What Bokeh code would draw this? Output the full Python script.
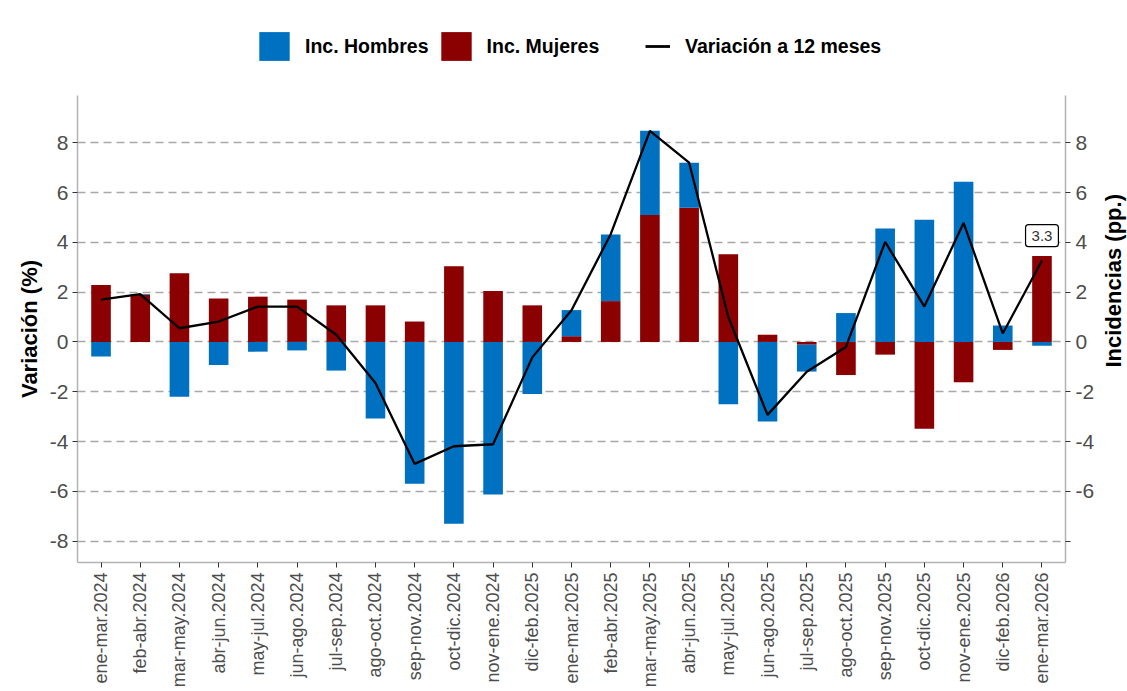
import math
from bokeh.plotting import figure
from bokeh.models import (Range1d, LinearAxis, FixedTicker, ColumnDataSource,
                          Legend, LegendItem, Label)
from bokeh.layouts import column, row
from bokeh.embed import file_html
from bokeh.resources import INLINE

# ---------------- data ----------------
categories = ["ene-mar.2024", "feb-abr.2024", "mar-may.2024", "abr-jun.2024",
              "may-jul.2024", "jun-ago.2024", "jul-sep.2024", "ago-oct.2024",
              "sep-nov.2024", "oct-dic.2024", "nov-ene.2024", "dic-feb.2025",
              "ene-mar.2025", "feb-abr.2025", "mar-may.2025", "abr-jun.2025",
              "may-jul.2025", "jun-ago.2025", "jul-sep.2025", "ago-oct.2025",
              "sep-nov.2025", "oct-dic.2025", "nov-ene.2025", "dic-feb.2026",
              "ene-mar.2026"]
inc_hombres = [-0.58, 0.03, -2.20, -0.93, -0.39, -0.34, -1.15, -3.08, -5.70, -7.30,
               -6.13, -2.09, 1.05, 2.68, 3.38, 1.81, -2.50, -3.20, -1.08, 1.16,
               4.56, 4.91, 6.44, 0.66, -0.15]
inc_mujeres = [2.29, 1.90, 2.76, 1.75, 1.82, 1.70, 1.47, 1.47, 0.82, 3.04,
               2.05, 1.47, 0.23, 1.64, 5.10, 5.39, 3.52, 0.29, -0.11, -1.33,
               -0.51, -3.49, -1.62, -0.32, 3.45]
variacion_12m = [1.70, 1.92, 0.55, 0.82, 1.42, 1.42, 0.29, -1.65, -4.90, -4.19,
                 -4.11, -0.62, 1.27, 4.33, 8.48, 7.20, 1.00, -2.93, -1.20, -0.20,
                 4.02, 1.42, 4.78, 0.34, 3.27]
y_ticks = [-8, -6, -4, -2, 0, 2, 4, 6, 8]

FONT = "Liberation Sans"
BLUE = "#0070C0"
RED = "#8B0000"
TICK_COLOR = "#4D4D4D"
AXIS_COLOR = "#B3B3B3"

# diverging stacking: Mujeres nearest zero, Hombres stacked after
x = list(range(len(categories)))
mb, mt, hb, ht = [], [], [], []
for m, h in zip(inc_mujeres, inc_hombres):
    mb.append(0.0)
    mt.append(m)
    if h >= 0:
        base = m if m > 0 else 0.0
    else:
        base = m if m < 0 else 0.0
    hb.append(base)
    ht.append(base + h)

src = ColumnDataSource(dict(x=x, mb=mb, mt=mt, hb=hb, ht=ht))

MAIN_H = 596
y_lo, y_hi = -8.86, 9.9
p = figure(width=1097, height=MAIN_H,
           x_range=Range1d(-0.6, len(categories) - 0.4),
           y_range=Range1d(y_lo, y_hi),
           output_backend="svg", toolbar_location=None,
           min_border_left=77, min_border_right=30,
           min_border_top=0, min_border_bottom=129)
p.extra_y_ranges = {"right": Range1d(y_lo, y_hi)}
p.outline_line_color = None
p.background_fill_color = "white"
p.border_fill_color = "white"

r_m = p.vbar(x="x", bottom="mb", top="mt", width=0.5, fill_color=RED,
             line_color=None, source=src)
r_h = p.vbar(x="x", bottom="hb", top="ht", width=0.5, fill_color=BLUE,
             line_color=None, source=src)
r_l = p.line(x, variacion_12m, line_color="black", line_width=2.3)

# grid
p.xgrid.visible = False
p.ygrid.ticker = FixedTicker(ticks=y_ticks)
p.ygrid.grid_line_color = "#A8A8A8"
p.ygrid.grid_line_width = 1.4
p.ygrid.grid_line_dash = "8 5"

def style_axis(ax, label_size):
    ax.axis_line_color = AXIS_COLOR
    ax.axis_line_width = 1.5
    ax.major_tick_line_color = "#333333"
    ax.major_tick_out = 5
    ax.major_tick_in = 0
    ax.minor_tick_line_color = None
    ax.major_label_text_font = FONT
    ax.major_label_text_font_size = label_size
    ax.major_label_text_color = TICK_COLOR
    ax.axis_label_text_font = FONT
    ax.axis_label_text_font_style = "bold"
    ax.axis_label_text_font_size = "22px"
    ax.axis_label_text_color = "black"

# x axis
xa = p.xaxis[0]
xa.ticker = FixedTicker(ticks=x)
xa.major_label_overrides = {i: c for i, c in zip(x, categories)}
xa.major_label_orientation = math.pi / 2
xa.major_label_standoff = 5
style_axis(xa, "18px")

# left axis
ya = p.yaxis[0]
ya.ticker = FixedTicker(ticks=y_ticks)
ya.major_label_overrides = {t: str(t) for t in y_ticks}
ya.axis_label = "Variación (%)"
ya.major_label_standoff = 4
ya.axis_label_standoff = 5
style_axis(ya, "21px")

# right axis (title drawn separately so it reads bottom-to-top)
ra = LinearAxis(y_range_name="right", ticker=FixedTicker(ticks=y_ticks),
                major_label_overrides={t: ("" if t == -8 else str(t)) for t in y_ticks})
style_axis(ra, "21px")
ra.major_label_standoff = 5
p.add_layout(ra, "right")

# last value label
last = len(categories) - 1
p.add_layout(Label(x=x[last], y=variacion_12m[last] + 1.0,
                   text=f"{variacion_12m[last]:.1f}",
                   text_align="center", text_baseline="middle",
                   text_font=FONT, text_font_size="15px", text_color="#333333",
                   border_line_color="black", border_line_width=1.2,
                   background_fill_color="white", padding=6, border_radius=3))

# ---------------- right axis title ----------------
TW = 30
tfig = figure(width=TW, height=MAIN_H, x_range=Range1d(0, TW), y_range=Range1d(0, MAIN_H),
              output_backend="svg", toolbar_location=None, min_border=0,
              x_axis_location=None, y_axis_location=None)
tfig.outline_line_color = None
tfig.grid.visible = False
tfig.add_layout(Label(x=16, y=MAIN_H - (331.5 - 95), text="Incidencias (pp.)",
                      angle=math.pi / 2, text_align="center", text_baseline="middle",
                      text_font=FONT, text_font_style="bold", text_font_size="22px",
                      text_color="black"))

# ---------------- legend strip ----------------
# legend keys: stand-in renderers kept outside the strip's visible range
LH = 95
lfig = figure(width=1127, height=LH, x_range=Range1d(0, 1), y_range=Range1d(0, 1),
              output_backend="svg", toolbar_location=None, min_border=0,
              x_axis_location=None, y_axis_location=None)
lfig.outline_line_color = None
lfig.grid.visible = False
key_src = ColumnDataSource(dict(kx=[-9.0, -8.0], ky=[-9.0, -9.0]))
k_h = lfig.vbar(x="kx", top="ky", width=0.5, fill_color=BLUE, line_color=None, source=key_src)
k_m = lfig.vbar(x="kx", top="ky", width=0.5, fill_color=RED, line_color=None, source=key_src)
k_l = lfig.line(x="kx", y="ky", line_color="black", line_width=2.8, source=key_src)

def style_legend(lg):
    lg.orientation = "horizontal"
    lg.padding = 0
    lg.margin = 0
    lg.border_line_color = None
    lg.background_fill_alpha = 0
    lg.label_text_font = FONT
    lg.label_text_font_style = "bold"
    lg.label_text_font_size = "19.5px"
    lg.label_text_color = "black"
    lg.glyph_height = 36

leg1 = Legend(items=[LegendItem(label="Inc. Hombres", renderers=[k_h]),
                     LegendItem(label="Inc. Mujeres", renderers=[k_m])],
              location=(255, 31))
style_legend(leg1)
leg1.glyph_width = 38
leg1.label_standoff = 12
leg1.spacing = 8

leg2 = Legend(items=[LegendItem(label="Variación a 12 meses", renderers=[k_l])],
              location=(645, 31))
style_legend(leg2)
leg2.glyph_width = 25
leg2.label_standoff = 15

lfig.add_layout(leg1, "center")
lfig.add_layout(leg2, "center")

layout = column(lfig, row(p, tfig))
open("out.html", "w").write(file_html(layout, INLINE, title="Variación"))
